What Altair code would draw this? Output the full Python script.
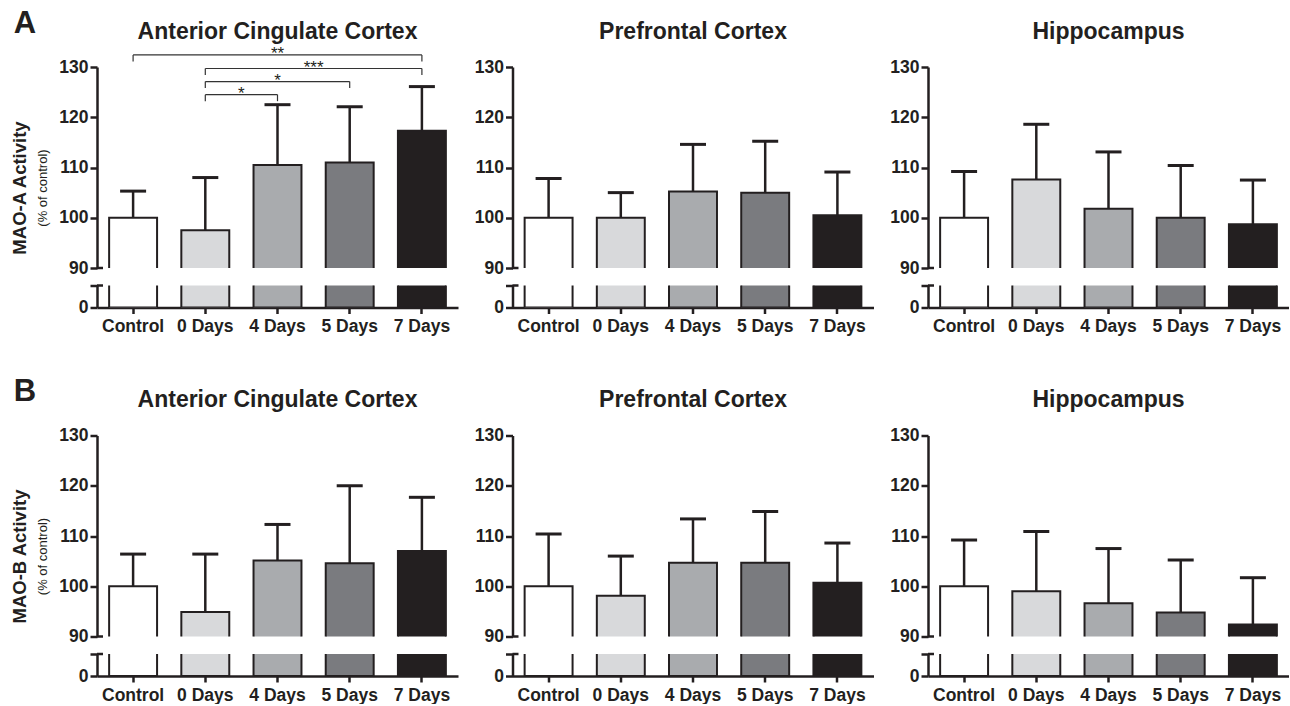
import altair as alt
import pandas as pd

groups = ["Control", "0 Days", "4 Days", "5 Days", "7 Days"]
group_fills = ["#ffffff", "#d8d9db", "#a9abae", "#7a7b7f", "#231f20"]
regions = ["Anterior Cingulate Cortex", "Prefrontal Cortex", "Hippocampus"]

# MAO-A activity, % of control: bar height (mean) and upper error bar length
mao_a_acc_mean = [100.0, 97.5, 110.5, 111.0, 117.3]
mao_a_acc_err = [5.3, 10.5, 12.0, 11.1, 8.8]
mao_a_pfc_mean = [100.0, 100.0, 105.2, 105.0, 100.5]
mao_a_pfc_err = [7.8, 5.0, 9.4, 10.2, 8.6]
mao_a_hip_mean = [100.0, 107.6, 101.8, 100.0, 98.7]
mao_a_hip_err = [9.2, 11.0, 11.3, 10.4, 8.8]

# MAO-B activity, % of control
mao_b_acc_mean = [100.0, 94.9, 105.1, 104.6, 107.0]
mao_b_acc_err = [6.4, 11.5, 7.2, 15.4, 10.7]
mao_b_pfc_mean = [100.0, 98.1, 104.7, 104.7, 100.7]
mao_b_pfc_err = [10.4, 7.9, 8.7, 10.2, 7.9]
mao_b_hip_mean = [100.0, 99.0, 96.6, 94.8, 92.4]
mao_b_hip_err = [9.2, 11.9, 10.9, 10.4, 9.3]

# significance brackets for MAO-A in the anterior cingulate cortex
sig_from = ["Control", "0 Days", "0 Days", "0 Days"]
sig_to = ["7 Days", "7 Days", "5 Days", "4 Days"]
sig_level = [132.4, 129.7, 127.1, 124.5]
sig_label = ["**", "***", "*", "*"]
sig_drop = 1.3

upper_ticks = [90, 100, 110, 120, 130]
lower_top = 5  # top of the short segment below the axis break

INK = "#231f20"
FONT = "Liberation Sans"
W, H_UP, H_LOW = 361, 201, 22
BREAK_GAP = 17.5
ROW_GAP = 127.5


def x_enc(axis=None):
    return alt.X(
        "group:N",
        sort=groups,
        scale=alt.Scale(domain=groups, paddingInner=0.336, paddingOuter=0.168),
        axis=axis,
        title=None,
    )


fill = alt.Fill("group:N", scale=alt.Scale(domain=groups, range=group_fills), legend=None)
one_row = pd.DataFrame({"k": [0]})


def label(text, x, y, **style):
    return alt.Chart(pd.DataFrame({"t": [text]})).mark_text(
        font=FONT, color=INK, **style
    ).encode(text="t:N", x=alt.value(x), y=alt.value(y))


def upper(region, mean, err, enzyme=None, letter=None, brackets=False):
    df = pd.DataFrame({"group": groups, "mean": mean, "err": err})
    df["top"] = df["mean"] + df["err"]
    ys = alt.Scale(domain=[90, 130], zero=False, nice=False)
    base = alt.Chart(df)
    bars = base.mark_bar(clip=True, stroke=INK, strokeWidth=2).encode(
        x=x_enc(),
        y=alt.Y("mean:Q", scale=ys, axis=alt.Axis(values=upper_ticks), title=None),
        y2=alt.datum(80),
        fill=fill,
    )
    stem = base.mark_rule(color=INK, strokeWidth=2.5).encode(
        x=x_enc(), y=alt.Y("mean:Q", title=None), y2="top:Q"
    )
    cap = base.mark_tick(color=INK, size=26, thickness=3, opacity=1).encode(
        x=x_enc(), y=alt.Y("top:Q", title=None)
    )
    brk = alt.Chart(one_row).mark_rule(color=INK, strokeWidth=2.5).encode(
        x=alt.value(0), x2=alt.value(6), y=alt.datum(90)
    )
    title = label(region, W / 2, -28.5, fontSize=23, fontWeight="bold",
                  align="center", baseline="alphabetic")
    layers = [bars, stem, cap, brk, title]
    if enzyme:
        layers.append(label(f"{enzyme} Activity", -77, 121, angle=270,
                            fontSize=18.5, fontWeight="bold"))
        layers.append(label("(% of control)", -54, 121, angle=270, fontSize=13))
    if letter:
        layers.append(label(letter, -72, -43.5, fontSize=31, fontWeight="bold"))
    chart = alt.layer(*layers)
    if brackets:
        idx = {g: i for i, g in enumerate(groups)}
        bdf = pd.DataFrame({
            "a": [idx[g] for g in sig_from],
            "b": [idx[g] for g in sig_to],
            "level": sig_level,
            "label": sig_label,
        })
        bdf["mid"] = (bdf["a"] + bdf["b"]) / 2
        bdf["drop"] = bdf["level"] - sig_drop
        xs = alt.Scale(domain=[-0.5, 4.5], nice=False, zero=False)
        bb = alt.Chart(bdf)
        line_kw = dict(color="#333333", strokeWidth=1.2)
        hline = bb.mark_rule(**line_kw).encode(
            x=alt.X("a:Q", scale=xs, axis=None), x2="b:Q", y=alt.Y("level:Q", title=None)
        )
        lefts = bb.mark_rule(**line_kw).encode(
            x=alt.X("a:Q", scale=xs, axis=None), y="level:Q", y2="drop:Q"
        )
        rights = bb.mark_rule(**line_kw).encode(
            x=alt.X("b:Q", scale=xs, axis=None), y="level:Q", y2="drop:Q"
        )
        stars = bb.mark_text(
            font=FONT, fontSize=17, color=INK, baseline="alphabetic", dy=4.5
        ).encode(x=alt.X("mid:Q", scale=xs, axis=None), y="level:Q", text="label:N")
        chart = alt.layer(chart, alt.layer(hline, lefts, rights, stars)).resolve_scale(
            x="independent"
        )
    return chart.properties(width=W, height=H_UP)


def lower(mean):
    df = pd.DataFrame({"group": groups, "mean": mean})
    ys = alt.Scale(domain=[0, lower_top], zero=False, nice=False)
    bars = alt.Chart(df).mark_bar(clip=True, stroke=INK, strokeWidth=2).encode(
        x=x_enc(alt.Axis(labelAngle=0, tickSize=6, labelPadding=4)),
        y=alt.Y(
            "mean:Q", scale=ys, title=None,
            axis=alt.Axis(values=[0, lower_top], labelExpr="datum.value == 0 ? '0' : ''"),
        ),
        y2=alt.datum(0),
        fill=fill,
    )
    brk = alt.Chart(one_row).mark_rule(color=INK, strokeWidth=2.5).encode(
        x=alt.value(0), x2=alt.value(6), y=alt.datum(lower_top)
    )
    return alt.layer(bars, brk).properties(width=W, height=H_LOW)


def spacer():
    return alt.Chart(one_row).mark_point(opacity=0).encode(
        x=alt.value(0), y=alt.value(0)
    ).properties(width=W, height=ROW_GAP - 2 * BREAK_GAP)


a_sets = [(mao_a_acc_mean, mao_a_acc_err), (mao_a_pfc_mean, mao_a_pfc_err), (mao_a_hip_mean, mao_a_hip_err)]
b_sets = [(mao_b_acc_mean, mao_b_acc_err), (mao_b_pfc_mean, mao_b_pfc_err), (mao_b_hip_mean, mao_b_hip_err)]

cells = []
cells += [
    upper(regions[i], m, e, **({"enzyme": "MAO-A", "letter": "A", "brackets": True} if i == 0 else {}))
    for i, (m, e) in enumerate(a_sets)
]
cells += [lower(m) for m, _ in a_sets]
cells += [spacer() for _ in range(3)]
cells += [
    upper(regions[i], m, e, **({"enzyme": "MAO-B", "letter": "B"} if i == 0 else {}))
    for i, (m, e) in enumerate(b_sets)
]
cells += [lower(m) for m, _ in b_sets]

chart = alt.concat(
    *cells, columns=3, spacing={"row": BREAK_GAP, "column": 54.5}, bounds="flush"
).properties(
    padding={"left": 11, "top": 7, "right": 0, "bottom": 0},
    background="white",
).configure_view(stroke=None).configure_axis(
    domainColor=INK, domainWidth=2.5, tickColor=INK, tickWidth=2.5, tickSize=7,
    labelColor=INK, labelFont=FONT, labelFontSize=17.5, labelFontWeight="bold",
    labelPadding=2, grid=False,
)

chart.save("out.html", embed_options={"renderer": "svg", "actions": False})
